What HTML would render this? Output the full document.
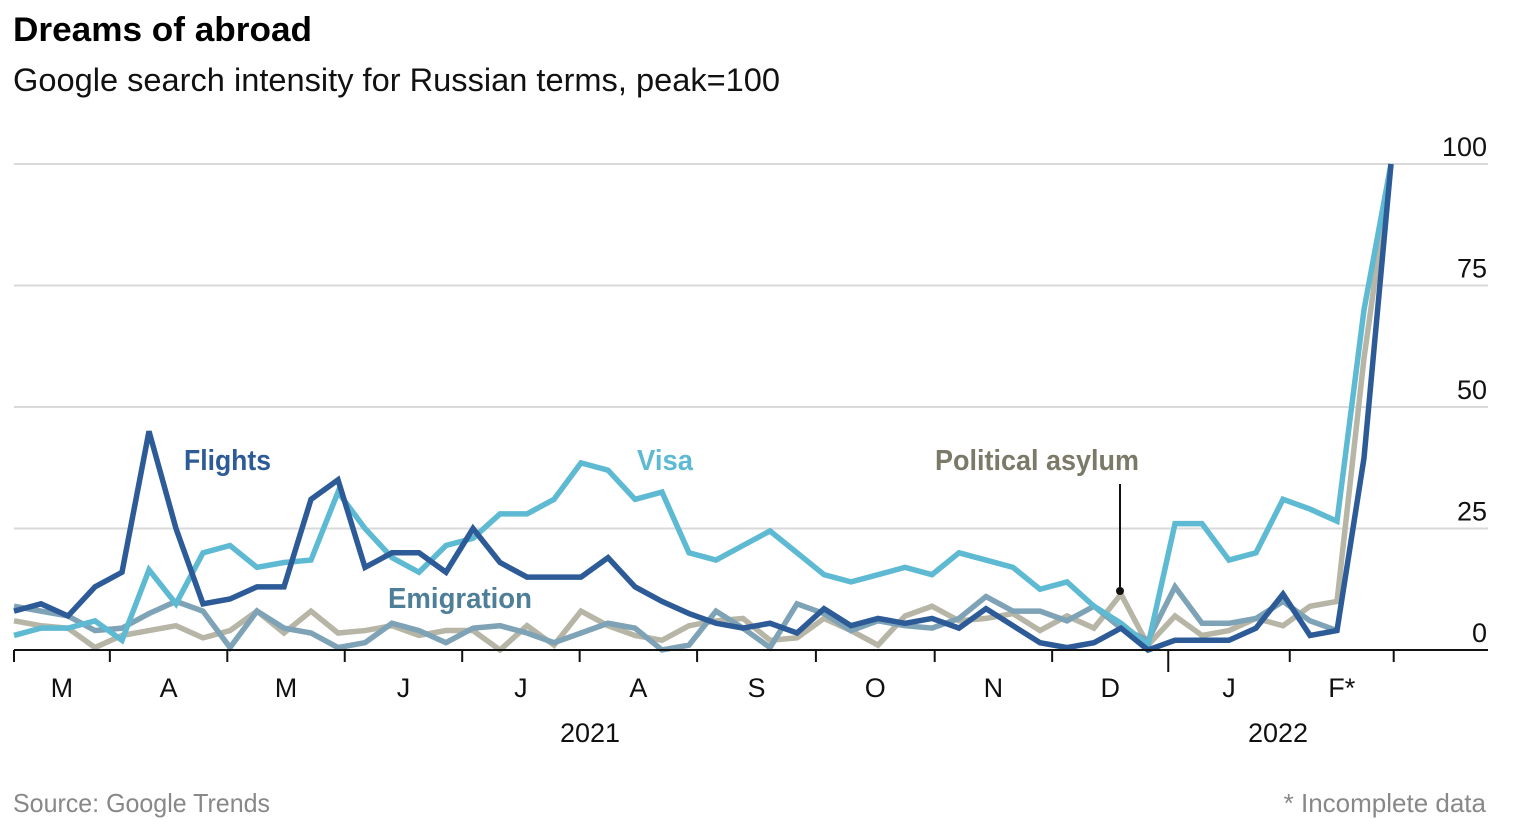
<!DOCTYPE html>
<html><head><meta charset="utf-8">
<style>
body{margin:0;background:#fff;width:1514px;height:832px;overflow:hidden;font-family:"Liberation Sans",sans-serif;}
svg text{font-family:"Liberation Sans",sans-serif;}
</style></head>
<body>
<svg id="chart" width="1514" height="832" xmlns="http://www.w3.org/2000/svg">
<text x="13" y="41" font-size="34" font-weight="bold" fill="#000" textLength="299" lengthAdjust="spacingAndGlyphs">Dreams of abroad</text>
<text x="13" y="91" font-size="32" fill="#111" textLength="767" lengthAdjust="spacingAndGlyphs">Google search intensity for Russian terms, peak=100</text>
<text x="13" y="812" font-size="26" fill="#888" textLength="257" lengthAdjust="spacingAndGlyphs">Source: Google Trends</text>
<text x="1486" y="812" font-size="26" fill="#888" text-anchor="end">* Incomplete data</text>
<g id="grid"></g><g id="series"></g><g id="axis"></g>
</svg>
<script>
const yTicks=[0,25,50,75,100];
const months=["M","A","M","J","J","A","S","O","N","D","J","F*"];
const monthTickIdx=[-0.0,3.55,7.9,12.25,16.6,20.95,25.3,29.7,34.1,38.45,42.75,47.25,51.1];
const years=["2021","2022"];
const flights=[8,9.5,7,13,16,45,25,9.5,10.5,13,13,31,35,17,20,20,16,25,18,15,15,15,19,13,10,7.5,5.5,4.5,5.5,3.5,8.5,5,6.5,5.5,6.5,4.5,8.5,5,1.5,0.5,1.5,4.5,0,2,2,2,4.5,11.5,3,4,39.5,100];
const visa=[3,4.5,4.5,6,2,16.5,9.5,20,21.5,17,18,18.5,32.5,25,19,16,21.5,23,28,28,31,38.5,37,31,32.5,20,18.5,21.5,24.5,20,15.5,14,15.5,17,15.5,20,18.5,17,12.5,14,9,5.5,1,26,26,18.5,20,31,29,26.5,70,100];
const emigration=[9,8,7,4,4.5,7.5,10,8,0.5,8,4.5,3.5,0.5,1.5,5.5,4,1.5,4.5,5,3.5,1.5,3.5,5.5,4.5,0,1,8,4.5,0.5,9.5,7.5,4,6,5,4.5,6.5,11,8,8,6,9,4.5,2,13,5.5,5.5,6.5,10,6,4];
const asylum=[6,5,4.5,0.5,3,4,5,2.5,4,8,3.5,8,3.5,4,5,3,4,4,0,5,1,8,5,3,2,5,6,6.5,2,2.5,6.5,4,1,7,9,6,6.5,7.5,4,7,4.5,11.5,1,7,3,4,6.5,5,9,10,60,100];
const NS="http://www.w3.org/2000/svg";
const x0=14,dx=27,yZero=650,yTop=164;
const X=i=>x0+i*dx;
const Y=v=>yZero-(yZero-yTop)*v/100;
function mk(tag,attrs,parent,txt){const e=document.createElementNS(NS,tag);for(const k in attrs)e.setAttribute(k,attrs[k]);if(txt!==undefined)e.textContent=txt;parent.appendChild(e);return e;}
const grid=document.getElementById('grid'),ser=document.getElementById('series'),ax=document.getElementById('axis');
yTicks.forEach(t=>{
 if(t>0){const l=mk('line',{x1:14,x2:1488,y1:Y(t),y2:Y(t),stroke:'#d9d9d9','stroke-width':2},grid);
 
 }
 const tx=mk('text',{x:1487,y:Y(t)-8,'font-size':27,'text-anchor':'end',fill:'#111'},grid,String(t));
 
 
});
function line(data,color,name,w){
 const p=mk('polyline',{points:data.map((v,i)=>X(i)+','+Y(v)).join(' '),fill:'none',stroke:color,'stroke-width':w||5.5,'stroke-linejoin':'miter','stroke-miterlimit':3},ser);
 
 
}
line(asylum,'#b7b5a5','political-asylum-line');
line(emigration,'#7fa3b6','emigration-line');
line(visa,'#5ebad2','visa-line');
line(flights,'#2d5b97','flights-line');
const base=mk('line',{x1:14,x2:1488,y1:650,y2:650,stroke:'#111','stroke-width':2},ax);


monthTickIdx.forEach((m,i)=>{
 const big=(i===10);
 const t=mk('line',{x1:X(m),x2:X(m),y1:650,y2:big?672:662,stroke:'#111','stroke-width':2},ax);
 
 
 if(i<months.length){
  const c=(X(m)+X(monthTickIdx[i+1]))/2;
  const lb=mk('text',{x:c,y:697,'font-size':27,'text-anchor':'middle',fill:'#111'},ax,months[i]);
  
  
 }
});
[[590,years[0]],[1278,years[1]]].forEach(([x,t])=>{
 const e=mk('text',{x:x,y:742,'font-size':27,'text-anchor':'middle',fill:'#111'},ax,t);
 
 
});
const labels=[["Flights",184,'#2d5b97',87],["Visa",637,'#5ebad2',56],["Emigration",388,'#4f7f98',144],["Political asylum",935,'#7b7a68',204]];
labels.forEach(([t,x,c,w])=>{
 const y=t==="Emigration"?608:470;
 const e=mk('text',{x:x,y:y,'font-size':29,'font-weight':'bold',fill:c,textLength:w,lengthAdjust:'spacingAndGlyphs'},ax,t);
 
 
});
const ann=mk('line',{x1:1120,x2:1120,y1:484,y2:590,stroke:'#111','stroke-width':2},ax);


const dot=mk('circle',{cx:1120,cy:591,r:4,fill:'#111'},ax);


</script>
</body></html>
